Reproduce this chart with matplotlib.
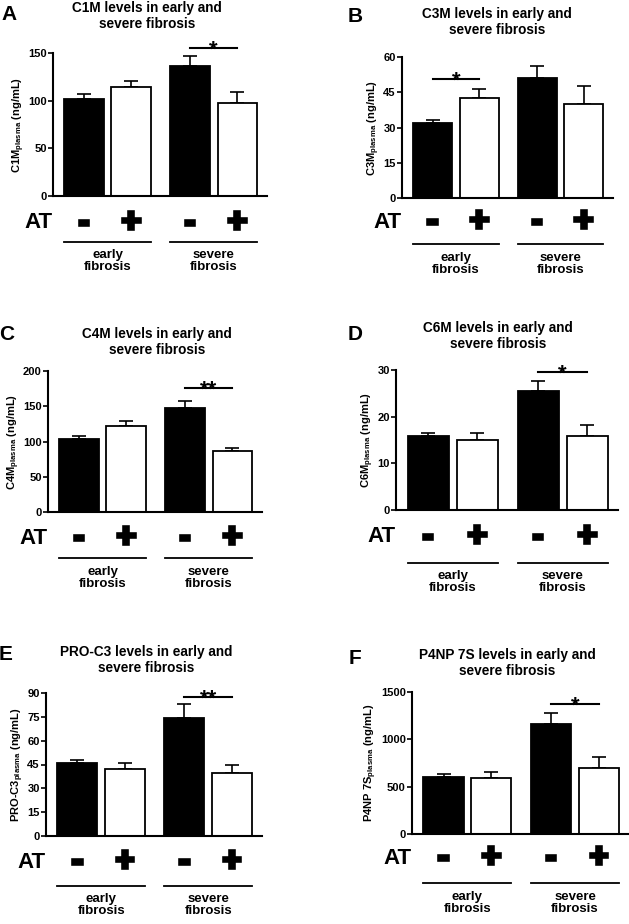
import matplotlib
matplotlib.use("Agg")
import matplotlib.pyplot as plt
import matplotlib.transforms as mtrans
import matplotlib.patheffects as pe
import numpy as np

plt.rcParams['font.family'] = ['Liberation Sans', 'DejaVu Sans']
plt.rcParams['font.weight'] = 'bold'
plt.rcParams['mathtext.fontset'] = 'custom'
plt.rcParams['mathtext.rm'] = 'Liberation Sans:bold'
plt.rcParams['mathtext.it'] = 'Liberation Sans:bold'
plt.rcParams['mathtext.bf'] = 'Liberation Sans:bold'

# data (mean, SEM) per panel, order: early -, early +, severe -, severe +
at_labels = ['-', '+', '-', '+']
groups = ['early\nfibrosis', 'severe\nfibrosis']

c1m_mean = [102, 114, 136, 98]
c1m_sem = [5, 7, 11, 11]
c3m_mean = [32, 42.5, 51, 40]
c3m_sem = [1, 4, 5, 7.5]
c4m_mean = [103, 122, 148, 86]
c4m_sem = [5, 7, 10, 5]
c6m_mean = [15.8, 15.0, 25.5, 15.8]
c6m_sem = [0.7, 1.4, 2.1, 2.5]
proc3_mean = [46, 42, 74, 39.5]
proc3_sem = [2, 4, 9, 5]
p4np_mean = [600, 595, 1160, 700]
p4np_sem = [35, 65, 118, 115]

titles = ['C1M levels in early and\nsevere fibrosis',
          'C3M levels in early and\nsevere fibrosis',
          'C4M levels in early and\nsevere fibrosis',
          'C6M levels in early and\nsevere fibrosis',
          'PRO-C3 levels in early and\nsevere fibrosis',
          'P4NP 7S levels in early and\nsevere fibrosis']
ylabels = [r'C1M$_{\rm plasma}$ (ng/mL)', r'C3M$_{\rm plasma}$ (ng/mL)',
           r'C4M$_{\rm plasma}$ (ng/mL)', r'C6M$_{\rm plasma}$ (ng/mL)',
           r'PRO-C3$_{\rm plasma}$ (ng/mL)', r'P4NP 7S$_{\rm plasma}$ (ng/mL)']
yticks = [[0, 50, 100, 150], [0, 15, 30, 45, 60], [0, 50, 100, 150, 200],
          [0, 10, 20, 30], [0, 15, 30, 45, 60, 75, 90], [0, 500, 1000, 1500]]
# significance: (bar i, bar j, height, stars)
sig = [(2, 3, 155, '*'), (0, 1, 50.5, '*'), (2, 3, 176, '**'),
       (2, 3, 29.6, '*'), (2, 3, 87.5, '**'), (2, 3, 1373, '*')]
means = [c1m_mean, c3m_mean, c4m_mean, c6m_mean, proc3_mean, p4np_mean]
sems = [c1m_sem, c3m_sem, c4m_sem, c6m_sem, proc3_sem, p4np_sem]

W, H, DPI = 629, 924, 100
fig = plt.figure(figsize=(W / DPI, H / DPI), dpi=DPI)
fig.patch.set_facecolor('white')

# layout in pixels: letter, left, top, right, bottom, title cx, title cy,
# letter cx, letter cy, AT row dy, line dy, group text dy
layout = [
    ('A', 53, 53, 267, 196, 147, 16, 9, 15, 27, 46, 65),
    ('B', 402, 57, 613, 198, 497, 22, 355, 17, 24, 46, 66),
    ('C', 48, 371, 262, 512, 157, 342, 7, 334, 26, 46, 66),
    ('D', 396, 370, 618, 510, 498, 336, 355, 335, 27, 53, 72),
    ('E', 46, 693, 262, 836, 146, 660, 6, 654, 26, 50, 69),
    ('F', 412, 692, 629, 834, 507, 663, 355, 658, 24, 49, 69),
]

xpos = np.array([0, 1, 2.25, 3.25])
bw = 0.84
thick = [pe.withStroke(linewidth=2.6, foreground='black', joinstyle='miter',
                       capstyle='projecting')]

for k, (letter, L, T, R, B, tcx, tcy, lcx, lcy, at_dy, line_dy, grp_dy) in enumerate(layout):
    ax = fig.add_axes([L / W, 1 - B / H, (R - L) / W, (B - T) / H])
    m = means[k]
    s = sems[k]
    ax.errorbar(xpos, m, yerr=[np.zeros(4), s], fmt='none', ecolor='black',
                elinewidth=1.2, capsize=5, capthick=1.2, zorder=1)
    ax.bar(xpos, m, width=bw, color=['black', 'white', 'black', 'white'],
           edgecolor='black', linewidth=1.3, zorder=2)
    ax.set_xlim(-0.66, 3.88)
    ax.set_ylim(0, yticks[k][-1])
    ax.set_yticks(yticks[k])
    ax.set_xticks([])
    for side in ['top', 'right']:
        ax.spines[side].set_visible(False)
    for side in ['left', 'bottom']:
        ax.spines[side].set_linewidth(1.5)
    ax.tick_params(axis='y', length=3.5, width=1.2, labelsize=8, pad=1)
    for t in ax.get_yticklabels():
        t.set_fontweight('bold')
    ax.set_ylabel(ylabels[k], fontsize=8, labelpad=1, fontweight='bold')

    i, j, h, stars = sig[k]
    ax.plot([xpos[i], xpos[j]], [h, h], color='black', lw=1.5, clip_on=False)
    ax.annotate(stars, xy=((xpos[i] + xpos[j]) / 2, h), xytext=(0, -5.5),
                textcoords='offset points', ha='center', va='baseline',
                fontsize=16, fontweight='bold', annotation_clip=False)

    blend = mtrans.blended_transform_factory(ax.transData, ax.transAxes)
    off_at = mtrans.ScaledTranslation(0, -at_dy / DPI, fig.dpi_scale_trans)
    off_line = mtrans.ScaledTranslation(0, -line_dy / DPI, fig.dpi_scale_trans)
    off_grp = mtrans.ScaledTranslation(0, -grp_dy / DPI, fig.dpi_scale_trans)

    for x, lab in zip(xpos, at_labels):
        ax.text(x, 0, lab, transform=blend + off_at, ha='center', va='center',
                fontsize=24, fontweight='bold', path_effects=thick, clip_on=False)
    ax.text(0, 0, 'AT', transform=ax.transAxes + off_at, ha='right', va='center',
            fontsize=16, fontweight='bold', clip_on=False)

    pairs = [(0, 1), (2, 3)]
    for (a, b), g in zip(pairs, groups):
        ax.plot([xpos[a] - bw / 2, xpos[b] + bw / 2], [0, 0], color='black', lw=1.3,
                transform=blend + off_line, clip_on=False)
        ax.text((xpos[a] + xpos[b]) / 2, 0, g, transform=blend + off_grp,
                ha='center', va='center', fontsize=9.5, fontweight='bold',
                linespacing=1.0, clip_on=False)

    fig.text(tcx / W, 1 - tcy / H, titles[k], ha='center', va='center',
             fontsize=9.8, fontweight='bold', linespacing=1.1)
    fig.text(lcx / W, 1 - lcy / H, letter, ha='center', va='center',
             fontsize=15, fontweight='bold')

fig.savefig('out.png', dpi=DPI)
